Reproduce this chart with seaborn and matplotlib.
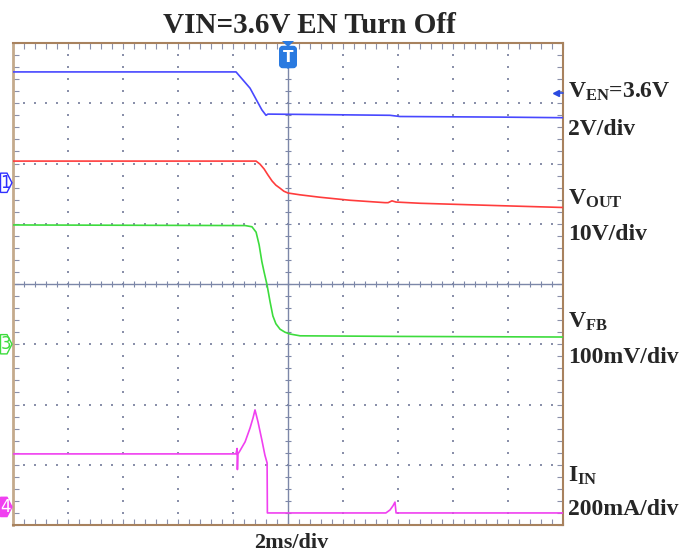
import numpy as np
import matplotlib
matplotlib.use("Agg")
import matplotlib.pyplot as plt
import matplotlib.transforms as mtransforms
from matplotlib.patches import Polygon
import seaborn as sns

# ---------------- data (time in ms, vertical in scope divisions) ----------------
ven_t = [-10.0, -1.89, -1.38, -0.95, -0.80, -0.73, 1.53, 3.71, 4.07, 7.71, 10.0]
ven_d = [3.52, 3.52, 3.25, 2.89, 2.80, 2.82, 2.81, 2.80, 2.78, 2.77, 2.76]

vout_t = [-10.0, -1.16, -1.02, -0.87, -0.73, -0.58, -0.44, -0.29, -0.15, 0.0, 0.44,
          1.16, 2.25, 3.53, 3.64, 3.78, 3.93, 4.80, 6.25, 7.71, 10.0]
vout_d = [2.04, 2.04, 1.99, 1.91, 1.81, 1.71, 1.64, 1.59, 1.54, 1.51, 1.48,
          1.44, 1.39, 1.35, 1.35, 1.38, 1.36, 1.34, 1.32, 1.30, 1.27]

vfb_t = [-10.0, -1.56, -1.31, -1.16, -1.05, -0.95, -0.87, -0.76, -0.65, -0.55, -0.44,
         -0.29, -0.11, 0.07, 0.44, 4.07, 10.0]
vfb_d = [0.98, 0.97, 0.95, 0.86, 0.65, 0.37, 0.20, -0.02, -0.30, -0.53, -0.66,
         -0.75, -0.80, -0.83, -0.86, -0.87, -0.88]

iin_t = [-10.0, -1.89, -1.85, -1.84, -1.82, -1.75, -1.56, -1.38, -1.27, -1.20, -1.09,
         -0.95, -0.84, -0.76, -0.75, -0.65, 3.56, 3.71, 3.82, 3.89, 3.93, 4.07, 10.0]
iin_d = [-2.82, -2.82, -2.73, -3.08, -2.82, -2.77, -2.62, -2.39, -2.22, -2.09, -2.29,
         -2.59, -2.84, -2.97, -3.80, -3.80, -3.80, -3.75, -3.68, -3.62, -3.80, -3.80, -3.80]

title = "VIN=3.6V EN Turn Off"
xlabel = "2ms/div"
ch_markers = ["1", "3", "4"]
ch_levels = [1.68, -1.0, -3.70]
trig_level = 3.17

# ---------------- style ----------------
sns.set_style("white")
plt.rcParams["font.family"] = ["Liberation Serif", "DejaVu Serif"]
plt.rcParams["mathtext.fontset"] = "custom"
plt.rcParams["mathtext.rm"] = "Liberation Serif:bold"
plt.rcParams["mathtext.bf"] = "Liberation Serif:bold"
plt.rcParams["mathtext.it"] = "Liberation Serif:bold"

W, H = 686, 556
fig = plt.figure(figsize=(W / 100, H / 100), dpi=100)
L, R, T, B = 13, 563, 43, 525
ax = fig.add_axes([L / W, 1 - B / H, (R - L) / W, (B - T) / H])
ax.set_xlim(-10, 10)
ax.set_ylim(-4, 4)

gridc = "#8a90aa"
centc = "#7c87a8"

# dotted graticule
gx, gy = [], []
for xv in np.arange(-8, 9, 2):
    if xv == 0:
        continue
    for yv in np.arange(-4, 4.01, 0.2):
        gx.append(xv); gy.append(yv)
for yv in np.arange(-3, 4, 1):
    if yv == 0:
        continue
    for xv in np.arange(-10, 10.01, 0.4):
        gx.append(xv); gy.append(yv)
ax.scatter(gx, gy, s=1.0, c=gridc, marker="s", linewidths=0, zorder=1)

# center cross with tick marks
ax.axhline(0, color=centc, lw=1.0, zorder=1)
ax.axvline(0, color=centc, lw=1.0, zorder=1)
ax.scatter(np.arange(-10, 10.01, 0.4), np.zeros(51), marker="|", s=22, c=centc, linewidths=0.8, zorder=1)
ax.scatter(np.zeros(41), np.arange(-4, 4.01, 0.2), marker="_", s=22, c=centc, linewidths=0.8, zorder=1)

# traces
lw = 1.2
sns.lineplot(x=ven_t, y=ven_d, sort=False, estimator=None, color="#4848ff", lw=lw, ax=ax, zorder=3)
sns.lineplot(x=vout_t, y=vout_d, sort=False, estimator=None, color="#ff3c3c", lw=lw, ax=ax, zorder=3)
sns.lineplot(x=vfb_t, y=vfb_d, sort=False, estimator=None, color="#3ddc3d", lw=lw, ax=ax, zorder=3)
sns.lineplot(x=iin_t, y=iin_d, sort=False, estimator=None, color="#f040f0", lw=lw, ax=ax, zorder=3)

# edge ticks
ax.set_xticks(np.arange(-10, 10.01, 2))
ax.set_xticks(np.arange(-10, 10.01, 0.4), minor=True)
ax.set_yticks(np.arange(-4, 4.01, 1))
ax.set_yticks(np.arange(-4, 4.01, 0.2), minor=True)
ax.tick_params(which="both", direction="in", length=4, width=0.8, color=gridc,
               top=True, bottom=True, left=True, right=True,
               labelbottom=False, labelleft=False)
ax.set_xlabel(""); ax.set_ylabel("")
for s in ax.spines.values():
    s.set_color("#a8825e")
    s.set_linewidth(1.5)
ax.spines["left"].set_color("#c4aa8c")
ax.spines["left"].set_linewidth(2.0)

# channel markers on the left edge
bt = mtransforms.blended_transform_factory(fig.transFigure, ax.transData)
ch_colors = ["#3030ff", "#3ddc3d", "#f040f0"]
ch_fill = [False, False, True]
px = 1 / W
for lab, lev, col, filled in zip(ch_markers, ch_levels, ch_colors, ch_fill):
    hh = 0.16
    poly = Polygon([(0.5 * px, lev + hh), (7 * px, lev + hh), (12 * px, lev),
                    (7 * px, lev - hh), (0.5 * px, lev - hh)], closed=True,
                   transform=bt, clip_on=False, facecolor=col if filled else "white",
                   edgecolor=col, lw=1.0, zorder=5)
    fig.add_artist(poly)
    fig.text(5.5 * px, lev, lab, transform=bt, ha="center", va="center",
             fontsize=12, family="DejaVu Sans", color="white" if filled else col, zorder=6)

# trigger marker on top
tb = mtransforms.blended_transform_factory(ax.transData, fig.transFigure)
tcol = "#2a7ae0"
fig.add_artist(Polygon([(-0.22, 1 - 41 / H), (0.22, 1 - 41 / H), (0, 1 - 47 / H)],
                       transform=tb, facecolor=tcol, edgecolor="none", clip_on=False, zorder=6))
fig.add_artist(Polygon([(-0.2, 1 - 64 / H), (0.2, 1 - 64 / H), (0, 1 - 69 / H)],
                       transform=tb, facecolor=tcol, edgecolor="none", clip_on=False, zorder=6))
fig.text(0, 1 - 57 / H, "T", transform=tb, ha="center", va="center", fontsize=11,
         family="DejaVu Sans", weight="bold", color="white",
         bbox=dict(boxstyle="round,pad=0.2", fc=tcol, ec=tcol), zorder=6)

# trigger level arrow on right
ax.plot([9.75], [trig_level], marker="<", ms=5, color="#2a4ae0", clip_on=False, zorder=6)
ax.plot([9.75, 10.0], [trig_level, trig_level], color="#2a4ae0", lw=1.2, clip_on=False, zorder=6)

# texts
fig.text(309 / W, 1 - 33 / H, title, ha="center", va="baseline", fontsize=21, weight="bold")
fig.text(291 / W, 1 - 548 / H, xlabel, ha="center", va="baseline", fontsize=16, weight="bold")

rx = 568 / W
labels = [
    (r"V$_{\mathbf{EN}}$=3.6V", 98),
    ("2V/div", 135),
    (r"V$_{\mathbf{OUT}}$", 205),
    ("10V/div", 240),
    (r"V$_{\mathbf{FB}}$", 328),
    ("100mV/div", 363),
    (r"I$_{\mathbf{IN}}$", 482),
    ("200mA/div", 515),
]
for txt, yb in labels:
    fig.text(rx, 1 - yb / H, txt, ha="left", va="baseline", fontsize=17, weight="bold")

fig.savefig("out.png", dpi=100)
